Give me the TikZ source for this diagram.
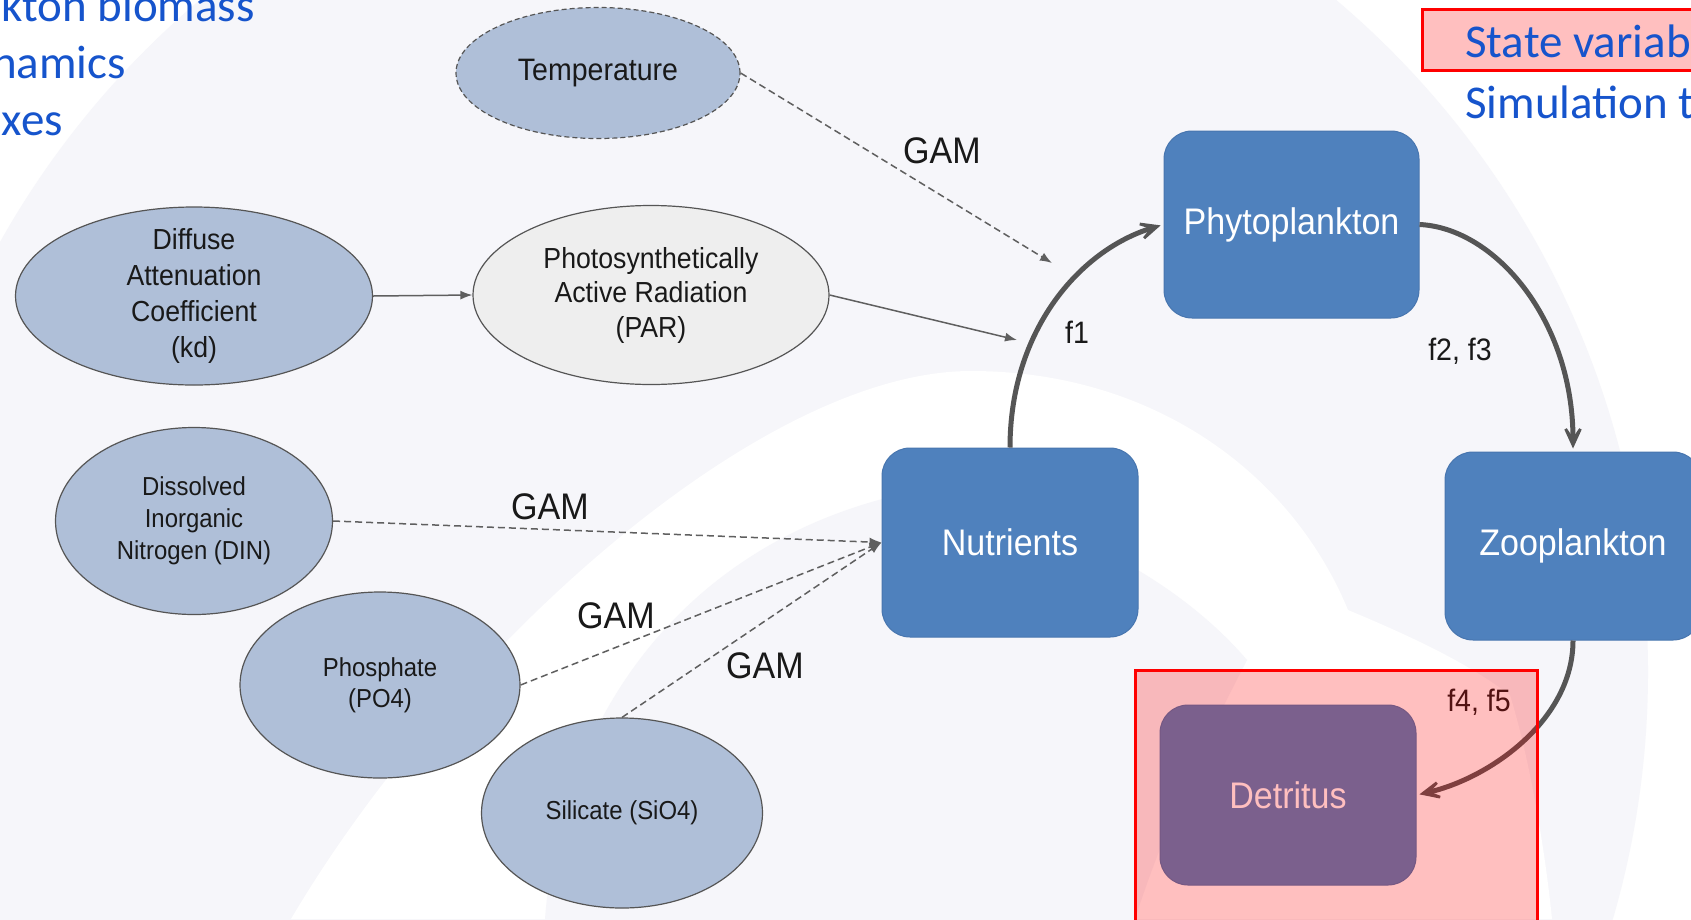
\documentclass[tikz,border=0pt]{standalone}
\usepackage{fontspec}
\setmainfont{Liberation Sans}
\newfontfamily\diagfont[FakeStretch=0.92]{Liberation Sans}
\newfontfamily\califont{Carlito}
\usetikzlibrary{shapes.geometric,arrows.meta}
\definecolor{lav}{RGB}{246,246,250}
\definecolor{ellblue}{RGB}{175,191,216}
\definecolor{pargray}{RGB}{238,238,238}
\definecolor{edgegray}{RGB}{85,85,85}
\definecolor{boxblue}{RGB}{79,129,189}
\definecolor{boxedge}{RGB}{72,118,175}
\definecolor{arrgray}{RGB}{95,95,95}
\definecolor{flowgray}{RGB}{85,85,85}
\definecolor{txtblue}{RGB}{22,84,204}
\definecolor{txtdark}{RGB}{25,25,25}
\tikzset{
  ell/.style={ellipse, draw=edgegray, line width=1.2pt, fill=ellblue, inner sep=-15pt, text=txtdark, align=center},
  bigtxt/.style={font=\diagfont\fontsize{29}{36}\selectfont},
  smalltxt/.style={font=\diagfont\fontsize{26}{32}\selectfont},
  box/.style={rectangle, rounded corners=28pt, fill=boxblue, draw=boxedge, line width=1pt, text=white, inner sep=0pt, font=\diagfont\fontsize{37}{44}\selectfont},
  thinarr/.style={draw=arrgray, line width=1.5pt, -{Latex[length=12pt,width=9pt]}},
  dsh/.style={thinarr, dash pattern=on 7pt off 4pt},
  flow/.style={draw=flowgray, line width=5pt, shorten >=3pt, -{Stealth[length=34pt,width=31pt,inset=23pt]}},
  lbl/.style={text=txtdark, inner sep=0pt},
  gam/.style={lbl, font=\diagfont\fontsize{37}{44}\selectfont},
  flbl/.style={lbl, font=\diagfont\fontsize{31}{36}\selectfont},
  redov/.style={fill=red, fill opacity=0.25, draw=red, draw opacity=1, line width=3pt},
  bt/.style={text=txtblue, inner sep=0pt, font=\califont\fontsize{47}{56}\selectfont}
}
\begin{document}
\begin{tikzpicture}[x=1pt,y=-1pt]
\clip (0,0) rectangle (1691,919);
% background
\fill[white] (0,0) rectangle (1691,919);
\fill[lav] (768,672) circle (880pt);
\fill[white] (291,919) .. controls (450,650) and (760,371) .. (971,371)
  .. controls (1150,371) and (1290,470) .. (1348,610)
  .. controls (1420,640) and (1470,665) .. (1510,695)
  .. controls (1530,760) and (1545,850) .. (1552,919) -- cycle;
\fill[lav] (545,919) .. controls (560,720) and (680,550) .. (890,497)
  .. controls (1030,500) and (1170,570) .. (1247,660)
  .. controls (1200,750) and (1160,840) .. (1135,919) -- cycle;

% ellipses
\node[ell, dash pattern=on 5pt off 3pt, minimum width=284pt, minimum height=131pt, font=\diagfont\fontsize{31}{36}\selectfont] (temp) at (598,73) {Temperature};
\node[ell, bigtxt, minimum width=357pt, minimum height=178pt] (kd) at (194,296) {Diffuse\\Attenuation\\Coefficient\\(kd)};
\node[ell, fill=pargray, minimum width=356pt, minimum height=179pt, font=\diagfont\fontsize{29}{34.5}\selectfont] (par) at (651,295) {Photosynthetically\\Active Radiation\\(PAR)};
\node[ell, smalltxt, minimum width=277pt, minimum height=187pt] (din) at (194,521) {Dissolved\\Inorganic\\Nitrogen (DIN)};
\node[ell, smalltxt, minimum width=280pt, minimum height=186pt, font=\diagfont\fontsize{26}{31}\selectfont] (pho) at (380,685) {Phosphate\\(PO4)};
\node[ell, smalltxt, minimum width=281pt, minimum height=190pt] (sil) at (622,813) {Silicate (SiO4)};

% boxes
\node[box, minimum width=255pt, minimum height=187pt] (phyto) at (1291.5,224.5) {Phytoplankton};
\node[box, minimum width=256pt, minimum height=189pt] (nut) at (1010,542.5) {Nutrients};
\node[box, minimum width=256pt, minimum height=188pt] (zoo) at (1573,546) {Zooplankton};
\node[box, minimum width=256pt, minimum height=180pt] (det) at (1288,795) {Detritus};

% free ends
\coordinate (tEnd) at (1052,263);
\coordinate (pEnd) at (1017,340);

% connectors
\draw[dsh] (temp.east) -- (tEnd);
\draw[thinarr] (kd.east) -- (par.west);
\draw[thinarr] (par.east) -- (pEnd);
\draw[dsh] (din.east) -- (nut.west);
\draw[dsh] (pho.east) -- (nut.west);
\draw[dsh] (sil.north) -- (nut.west);
\draw[flow] (nut.north) .. controls (1010,330) and (1080,250) .. (phyto.west);
\draw[flow] (phyto.east) .. controls (1495,228) and (1573,320) .. (zoo.north);
\draw[flow] (zoo.south) .. controls (1573,720) and (1490,778) .. (det.east);

% labels
\node[gam] (g1) at (942,151) {GAM};
\node[gam] (g2) at (550,507) {GAM};
\node[gam] (g3) at (616,616) {GAM};
\node[gam] (g4) at (765,666) {GAM};
\node[flbl] (f1) at (1077,332) {f1};
\node[flbl] (f23) at (1460,351) {f2, f3};
\node[flbl] (f45) at (1479,702) {f4, f5};

% red overlays
\path[redov] (1135,670) rectangle (1537,935);
\path[redov] (1422,9) rectangle (1710,70);

% blue text
\node[bt, anchor=base west] (sv) at (1465,57) {State variab};
\node[bt, anchor=base west] (st) at (1465,118) {Simulation t};
\node[bt, anchor=base east] (l1) at (255,21) {kton biomass};
\node[bt, anchor=base east] (l2) at (126,78) {namics};
\node[bt, anchor=base east] (l3) at (63,135) {xes};
\end{tikzpicture}
\end{document}
